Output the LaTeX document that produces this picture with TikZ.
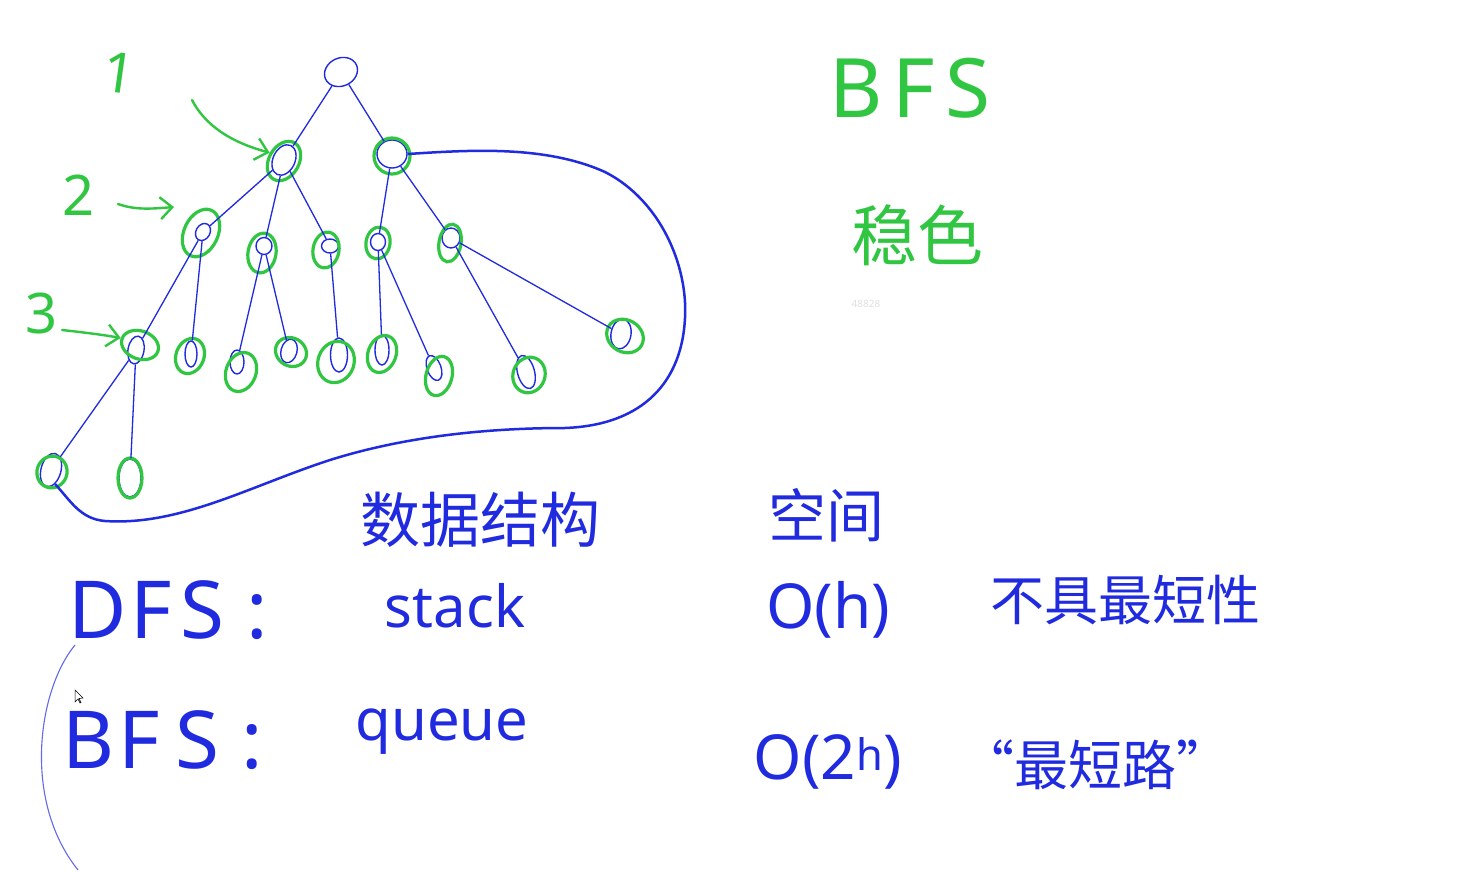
\documentclass[tikz,border=0pt]{standalone}
\usepackage{fontspec}
\setmainfont{Noto Sans}
\newfontfamily\cjk{Noto Sans CJK SC}
\usetikzlibrary{shapes.geometric,arrows.meta}
\definecolor{inkblue}{RGB}{32,42,222}
\definecolor{inkgreen}{RGB}{48,198,66}
\tikzset{
  bn/.style={draw=inkblue, line width=1.4pt, ellipse, inner sep=0pt},
  gn/.style={draw=inkgreen, line width=3.2pt, ellipse, inner sep=0pt},
  edge/.style={draw=inkblue, line width=1.3pt},
  loopline/.style={draw=inkblue, line width=2.5pt},
  garrow/.style={draw=inkgreen, line width=2.4pt, line cap=round, -{Straight Barb[length=12pt,width=22pt,line width=2.4pt]}},
  gtext/.style={text=inkgreen, inner sep=0pt},
  btext/.style={text=inkblue, inner sep=0pt},
}
\begin{document}
\begin{tikzpicture}[x=1pt,y=-1pt]
\useasboundingbox[fill=white] (0,0) rectangle (1469,872);
% tree nodes (blue)
\node[bn, minimum width=34pt, minimum height=28pt, rotate=25] (r) at (341,72) {};
\node[bn, minimum width=22pt, minimum height=32pt, rotate=-25] (A) at (284,160) {};
\node[bn, minimum width=30pt, minimum height=28pt] (B) at (392,154) {};
\node[bn, minimum width=14pt, minimum height=18pt, rotate=-30] (a1) at (203,232) {};
\node[bn, minimum width=16pt, minimum height=17pt] (a2) at (264,246) {};
\node[bn, minimum width=17pt, minimum height=14pt] (a3) at (330,246) {};
\node[bn, minimum width=15pt, minimum height=17pt] (b1) at (378,242) {};
\node[bn, minimum width=18pt, minimum height=20pt] (b2) at (451,238) {};
\node[bn, minimum width=16pt, minimum height=28pt, rotate=-10] (c1) at (136,350) {};
\node[bn, minimum width=12pt, minimum height=26pt] (c2) at (191,354) {};
\node[bn, minimum width=14pt, minimum height=24pt] (c3) at (237,362) {};
\node[bn, minimum width=16pt, minimum height=24pt, rotate=-15] (c4) at (289,351) {};
\node[bn, minimum width=17pt, minimum height=34pt] (c5) at (339,355) {};
\node[bn, minimum width=14pt, minimum height=30pt] (c6) at (382,350) {};
\node[bn, minimum width=14pt, minimum height=26pt, rotate=20] (c7) at (434,368) {};
\node[bn, minimum width=17pt, minimum height=34pt, rotate=15] (c8) at (526,372) {};
\node[bn, minimum width=20pt, minimum height=30pt, rotate=-10] (c9) at (621,334) {};
\node[bn, minimum width=20pt, minimum height=34pt, rotate=-15] (d1) at (51,470) {};
\node[bn, minimum width=22pt, minimum height=38pt] (d2) at (130,478) {};
% green rings
\node[gn, minimum width=30pt, minimum height=42pt, rotate=-30] (gA) at (284,161) {};
\node[gn, minimum width=36pt, minimum height=36pt] (gB) at (392,156) {};
\node[gn, minimum width=34pt, minimum height=50pt, rotate=-25] (ga1) at (201,233) {};
\node[gn, minimum width=28pt, minimum height=40pt, rotate=-10] (ga2) at (262,253) {};
\node[gn, minimum width=26pt, minimum height=36pt, rotate=-10] (ga3) at (326,250) {};
\node[gn, minimum width=24pt, minimum height=32pt, rotate=-10] (gb1) at (378,243) {};
\node[gn, minimum width=22pt, minimum height=38pt, rotate=-10] (gb2) at (450,243) {};
\node[gn, minimum width=38pt, minimum height=28pt, rotate=-20] (gc1) at (140,345) {};
\node[gn, minimum width=28pt, minimum height=36pt, rotate=-20] (gc2) at (190,356) {};
\node[gn, minimum width=30pt, minimum height=40pt, rotate=-20] (gc3) at (241,372) {};
\node[gn, minimum width=32pt, minimum height=28pt, rotate=-30] (gc4) at (291,352) {};
\node[gn, minimum width=36pt, minimum height=42pt, rotate=-20] (gc5) at (336,362) {};
\node[gn, minimum width=28pt, minimum height=38pt, rotate=-20] (gc6) at (382,354) {};
\node[gn, minimum width=26pt, minimum height=40pt, rotate=-15] (gc7) at (439,376) {};
\node[gn, minimum width=32pt, minimum height=36pt, rotate=-20] (gc8) at (529,375) {};
\node[gn, minimum width=38pt, minimum height=32pt, rotate=-30] (gc9) at (625,336) {};
\node[gn, minimum width=30pt, minimum height=32pt, rotate=-20] (gd1) at (52,472) {};
\node[gn, minimum width=24pt, minimum height=40pt] (gd2) at (130,478) {};
% edges
\draw[edge] (r) -- (A);
\draw[edge] (r) -- (B);
\draw[edge] (A) -- (a1);
\draw[edge] (A) -- (a2);
\draw[edge] (A) -- (a3);
\draw[edge] (B) -- (b1);
\draw[edge] (B) -- (b2);
\draw[edge] (a1) -- (c1);
\draw[edge] (a1) -- (c2);
\draw[edge] (a2) -- (c3);
\draw[edge] (a2) -- (c4);
\draw[edge] (a3) -- (c5);
\draw[edge] (b1) -- (c6);
\draw[edge] (b1) -- (c7);
\draw[edge] (b2) -- (c8);
\draw[edge] (b2) -- (c9);
\draw[edge] (c1) -- (d1);
\draw[edge] (c1) -- (d2);
% big enclosing curve
\draw[loopline] (B.east) .. controls (470,150) and (545,145) .. (605,172)
  .. controls (660,200) and (688,265) .. (685,318)
  .. controls (682,380) and (645,425) .. (565,428)
  .. controls (480,428) and (400,438) .. (330,460)
  .. controls (250,486) and (180,526) .. (105,521)
  .. controls (80,519) and (70,500) .. (d1.south east);
% left arc
\coordinate (arcS) at (75,645);
\coordinate (arcE) at (78,870);
\draw[draw=inkblue!70, line width=1.1pt] (arcS) .. controls (38,690) and (22,800) .. (arcE);
% cursor
\draw[fill=white, line width=0.5pt] (75,690) -- (75,702) -- (78,699) -- (80,703) -- (81,702.5) -- (79,698.5) -- (83,698) -- cycle;
% green labels and arrows
\node[gtext, font=\fontsize{56}{56}\selectfont, rotate=-8] (one) at (119,73) {1};
\node[gtext, font=\fontsize{56}{56}\selectfont] (two) at (79,195) {2};
\node[gtext, font=\fontsize{56}{56}\selectfont] (three) at (42,314) {3};
\coordinate (arr1s) at (192,100);
\coordinate (arr2s) at (118,204);
\coordinate (arr2e) at (174,207);
\coordinate (arr3s) at (62,330);
\draw[garrow] (arr1s) .. controls (205,125) and (230,142) .. (gA.west);
\draw[garrow] (arr2s) .. controls (135,210) and (150,209) .. (arr2e);
\draw[garrow] (arr3s) .. controls (90,333) and (110,336) .. (gc1.west);
% green texts
\node[gtext, font=\fontsize{82}{82}\selectfont] (bfsg) at (910,88) {B\kern10pt F\kern10pt S};
\node[gtext, font=\cjk\fontsize{66}{66}\selectfont] (ranse) at (917,235) {稳色};
\node[text=black!12, font=\fontsize{10}{10}\selectfont, inner sep=0pt] (wm) at (866,304) {48828};
% blue texts
\node[btext, font=\cjk\fontsize{60}{60}\selectfont] (sjjg) at (480,520) {数据结构};
\node[btext, font=\cjk\fontsize{58}{58}\selectfont] (kj) at (826,515) {空间};
\node[btext, font=\fontsize{80}{80}\selectfont, anchor=west] (dfs) at (68,610) {D\kern4pt F\kern8pt S\kern22pt :};
\node[btext, font=\fontsize{58}{58}\selectfont] (stack) at (455,606) {stack};
\node[btext, font=\fontsize{62}{62}\selectfont] (oh) at (828,610) {O(h)};
\node[btext, font=\cjk\fontsize{54}{54}\selectfont] (bjzdx) at (1125,600) {不具最短性};
\node[btext, font=\fontsize{80}{80}\selectfont, anchor=west] (bfs) at (62,740) {B\kern4pt F\kern16pt S\kern22pt :};
\node[btext, font=\fontsize{58}{58}\selectfont] (queue) at (442,732) {queue};
\node[btext, font=\fontsize{62}{62}\selectfont] (o2h) at (828,762) {O(2\textsuperscript{h})};
\node[btext, font=\cjk\fontsize{54}{54}\selectfont] (zdl) at (1095,765) {“最短路”};
\end{tikzpicture}
\end{document}
